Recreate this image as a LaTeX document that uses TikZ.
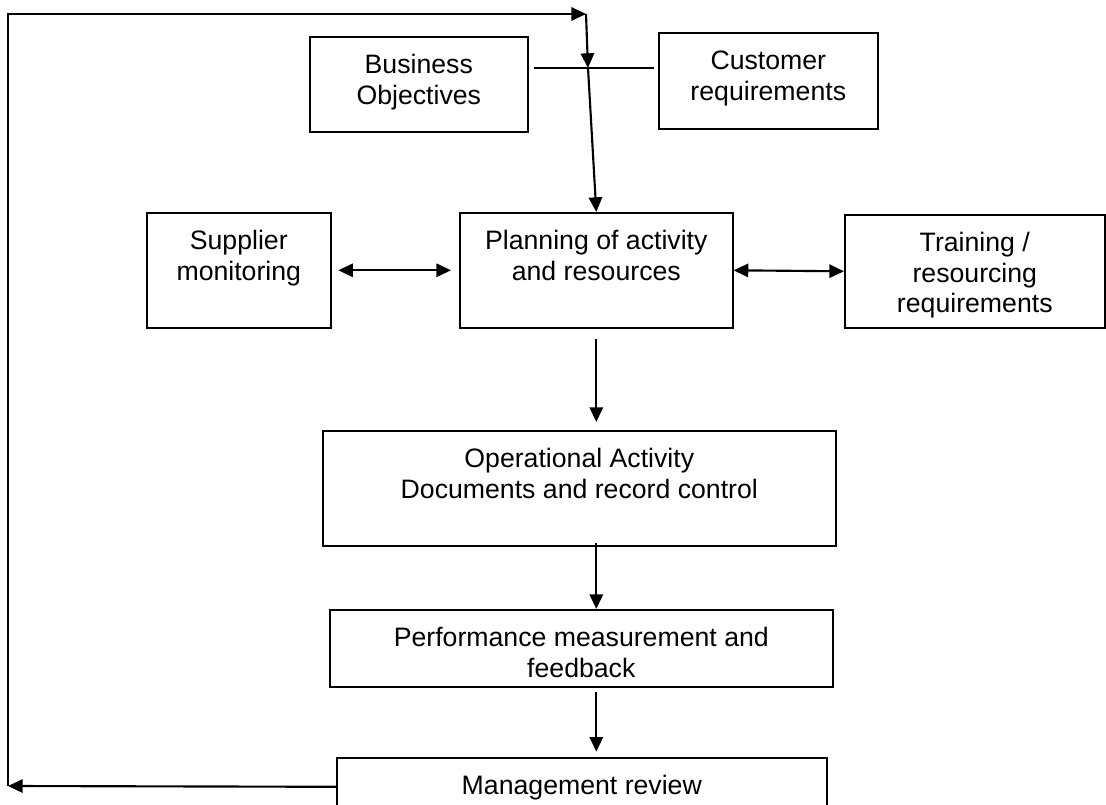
\documentclass[tikz,border=0pt]{standalone}
\usepackage{fontspec}
\setmainfont{Liberation Sans}
\usetikzlibrary{arrows.meta}
\newdimen\pxu \pxu=0.75pt
\newcommand{\boxlines}[3]{\parbox[c][#2\pxu][t]{#1\pxu}{\centering\vspace*{11.5pt}\strut#3}}
\tikzset{
  box/.style={draw, line width=1.2pt, inner sep=0pt, anchor=north west, font=\fontsize{20}{23}\selectfont},
  link/.style={line width=1.6pt, -{Triangle[length=11pt,width=10pt]}},
  both/.style={line width=1.6pt, {Triangle[length=11pt,width=10pt]}-{Triangle[length=11pt,width=10pt]}},
}
\begin{document}
\begin{tikzpicture}[x=0.75pt,y=-0.75pt]
\useasboundingbox (0,0) rectangle (1106,805);
\clip (0,0) rectangle (1106,805);
% boxes
\node[box] (biz)   at (309,36)  {\boxlines{218}{95}{Business\\Objectives}};
\node[box] (cust)  at (658,32)  {\boxlines{219}{96}{Customer\\requirements}};
\node[box] (supp)  at (146,212) {\boxlines{184}{115}{Supplier\\monitoring}};
\node[box] (plan)  at (459,212) {\boxlines{273}{115}{Planning of activity\\and resources}};
\node[box] (train) at (844,214) {\boxlines{260}{113}{Training /\\resourcing\\requirements}};
\node[box] (op)    at (322,430) {\boxlines{513}{115}{Operational Activity\\Documents and record control}};
\node[box] (perf)  at (329,609) {\boxlines{503}{77}{Performance measurement and\\feedback}};
\node[box] (mgmt)  at (336,757) {\boxlines{490}{58}{Management review}};
% feedback loop
\coordinate (back) at (8,786);
\coordinate (turn) at (586,14);
\coordinate (join) at (588,68);
\draw[link] (mgmt.west) -- (back);
\draw[link] (back) |- (turn);
\draw[link] (turn) -- (join);
\draw[line width=1.2pt, shorten <=4pt, shorten >=3pt] (biz.east |- join) -- (cust.west |- join);
\draw[link] (join) -- (plan.north);
% side links
\draw[both, shorten <=5pt, shorten >=6pt] (supp.east) -- (plan.west);
\draw[both] (plan.east) -- (train.west);
% main flow
\draw[link, shorten <=8pt, shorten >=6pt] (plan.south) -- (plan.south |- op.north);
\draw[link, shorten <=-3pt] (plan.south |- op.south) -- (plan.south |- perf.north);
\draw[link, shorten <=3pt, shorten >=4pt] (plan.south |- perf.south) -- (plan.south |- mgmt.north);
\end{tikzpicture}
\end{document}
